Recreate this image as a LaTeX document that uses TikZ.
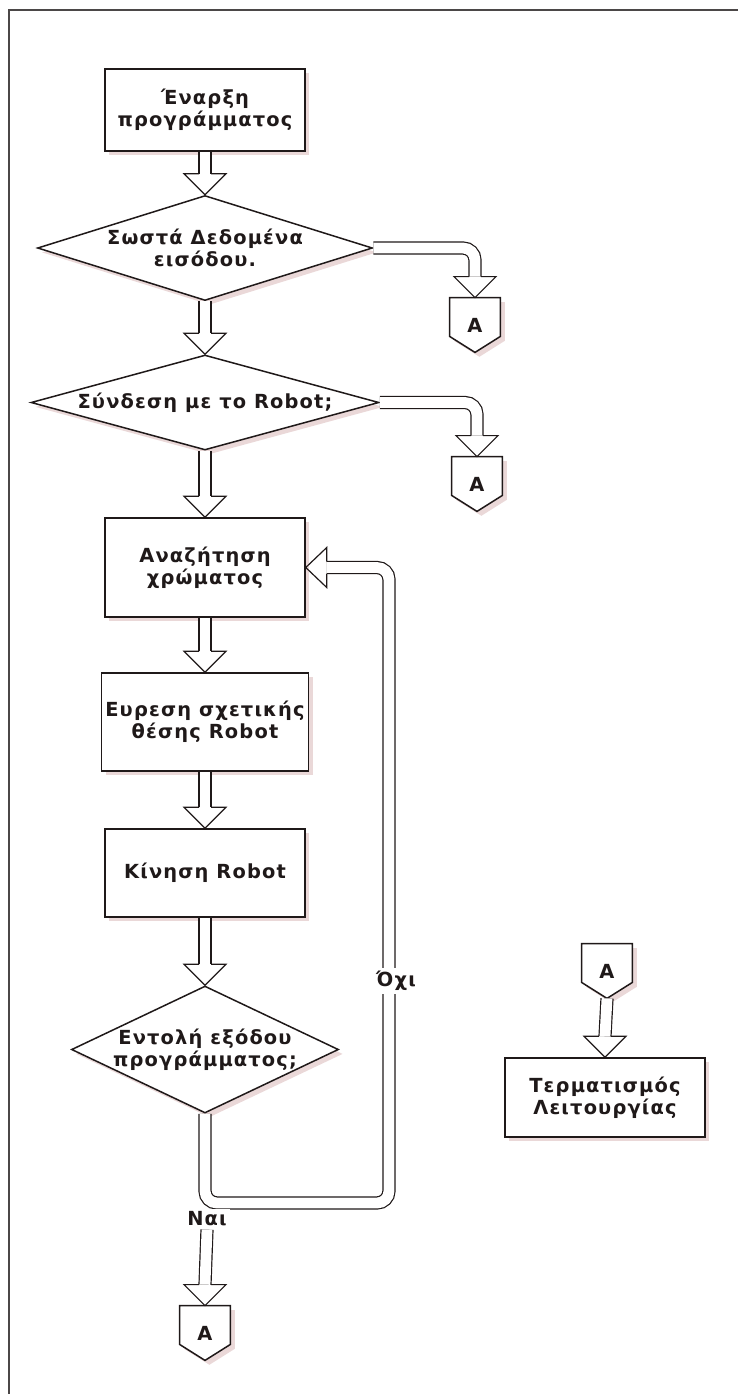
\documentclass[tikz,border=0pt]{standalone}
\usepackage{fontspec}
\setmainfont{DejaVu Sans}[LetterSpace=6]
\usetikzlibrary{shapes.geometric,calc,shadows}
\definecolor{ink}{rgb}{0.12,0.1,0.1}
\definecolor{shade}{RGB}{234,216,216}
\tikzset{
  every node/.style={font=\bfseries\fontsize{9.7}{11}\selectfont, text=ink},
  shd/.style={drop shadow={shadow xshift=2.2pt, shadow yshift=-2.2pt, fill=shade, opacity=1}},
  procbox/.style={rectangle, draw=ink, line width=0.75pt, fill=white, shd, align=center, minimum width=100pt, inner sep=2pt},
  decide/.style={diamond, draw=ink, line width=0.75pt, fill=white, shd, inner sep=0pt},
  offbox/.style={rectangle, draw=none, minimum width=25pt, minimum height=27pt, inner sep=0pt},
  pent/.style={draw=ink, line width=0.75pt, fill=white, shd},
  shaft/.style={draw=ink, line width=0.6pt, double=white, double distance=5.4pt},
  hd/.style={draw=ink, line width=0.6pt, line join=miter},
  tag/.style={fill=white, inner sep=1.5pt},
}
% block-arrow heads: tip at the given point
\newcommand\hdown[1]{\draw[hd] ($(#1)+(-6,-21)$) -- ($(#1)+(-21,-21)$) -- (#1) -- ($(#1)+(21,-21)$) -- ($(#1)+(6,-21)$);}
\newcommand\hleft[1]{\draw[hd] ($(#1)+(21,-6)$) -- ($(#1)+(21,-20)$) -- (#1) -- ($(#1)+(21,20)$) -- ($(#1)+(21,6)$);}
% off-page connector "A": name, x, y of centre
\newcommand\offpage[3]{%
  \node[offbox] (#1) at (#2,#3) {};
  \draw[pent] (#1.north west) -- (#1.north east) -- ($(#1.south east)+(0,-16)$) -- (#1.south) -- ($(#1.south west)+(0,-16)$) -- cycle;
  \node (#1t) at (#1) {A};
}

\begin{document}
\begin{tikzpicture}[x=0.5pt,y=-0.5pt]
\useasboundingbox (0,0) rectangle (738,1394);
\draw[line width=1.3pt, ink!80] (9,1394) -- (9,10) -- (738,10);

% main column
\node[procbox, minimum height=41pt] (b1) at (205,110) {Έναρξη\\προγράμματος};
\node[decide, minimum width=167.5pt, minimum height=52.5pt,
      label={[align=center]center:{Σωστά Δεδομένα\\εισόδου.}}] (d1) at (205,248) {};
\node[decide, minimum width=174pt, minimum height=47.5pt,
      label={center:{Σύνδεση με το Robot;}}] (d2) at (205,402.5) {};
\node[procbox, minimum height=49.5pt] (b3) at (205,567.5) {Αναζήτηση\\χρώματος};
\node[procbox, minimum height=49pt] (b4) at (205,722) {Ευρεση σχετικής\\θέσης Robot};
\node[procbox, minimum height=44pt] (b5) at (205,873) {Κίνηση Robot};
\node[decide, minimum width=133.5pt, minimum height=63.5pt,
      label={[align=center]center:{Εντολή εξόδου\\προγράμματος;}}] (d3) at (205,1049.5) {};

% right column
\node[procbox, minimum height=39.5pt] (b6) at (605,1097.5) {Τερματισμός\\Λειτουργίας};

% off-page connectors
\offpage{a1}{475}{325}
\offpage{a2}{477}{484}
\offpage{a3}{205}{1333}
\offpage{a4}{607}{971}

% flow
\draw[shaft] (b1.south) -- ($(d1.north)+(0,-21)$); \hdown{d1.north}
\draw[shaft, rounded corners=6pt] (d1.east) -| ($(a1.north)+(0,-21)$); \hdown{a1.north}
\draw[shaft] (d1.south) -- ($(d2.north)+(0,-21)$); \hdown{d2.north}
\draw[shaft, rounded corners=6pt] (d2.east) -| ($(a2.north)+(0,-21)$); \hdown{a2.north}
\draw[shaft] (d2.south) -- ($(b3.north)+(0,-21)$); \hdown{b3.north}
\draw[shaft] (b3.south) -- ($(b4.north)+(0,-21)$); \hdown{b4.north}
\draw[shaft] (b4.south) -- ($(b5.north)+(0,-21)$); \hdown{b5.north}
\draw[shaft] (b5.south) -- ($(d3.north)+(0,-21)$); \hdown{d3.north}

% loop back on "no"
\coordinate (lp) at (389,1203);
\draw[shaft, rounded corners=6pt] (d3.south) |- (lp) -- (lp |- b3.east) -- ($(b3.east)+(21,0)$);
\hleft{b3.east}
\node[tag] (no) at (396,981) {Όχι};

% exit on "yes"
\node[tag] (yes) at (207,1219) {Ναι};
\draw[shaft] (yes.south) -- ($(a3.north)+(0,-21)$); \hdown{a3.north}

% termination
\draw[shaft] (a4.south) -- ($(b6.north)+(0,-21)$); \hdown{b6.north}
\end{tikzpicture}
\end{document}
